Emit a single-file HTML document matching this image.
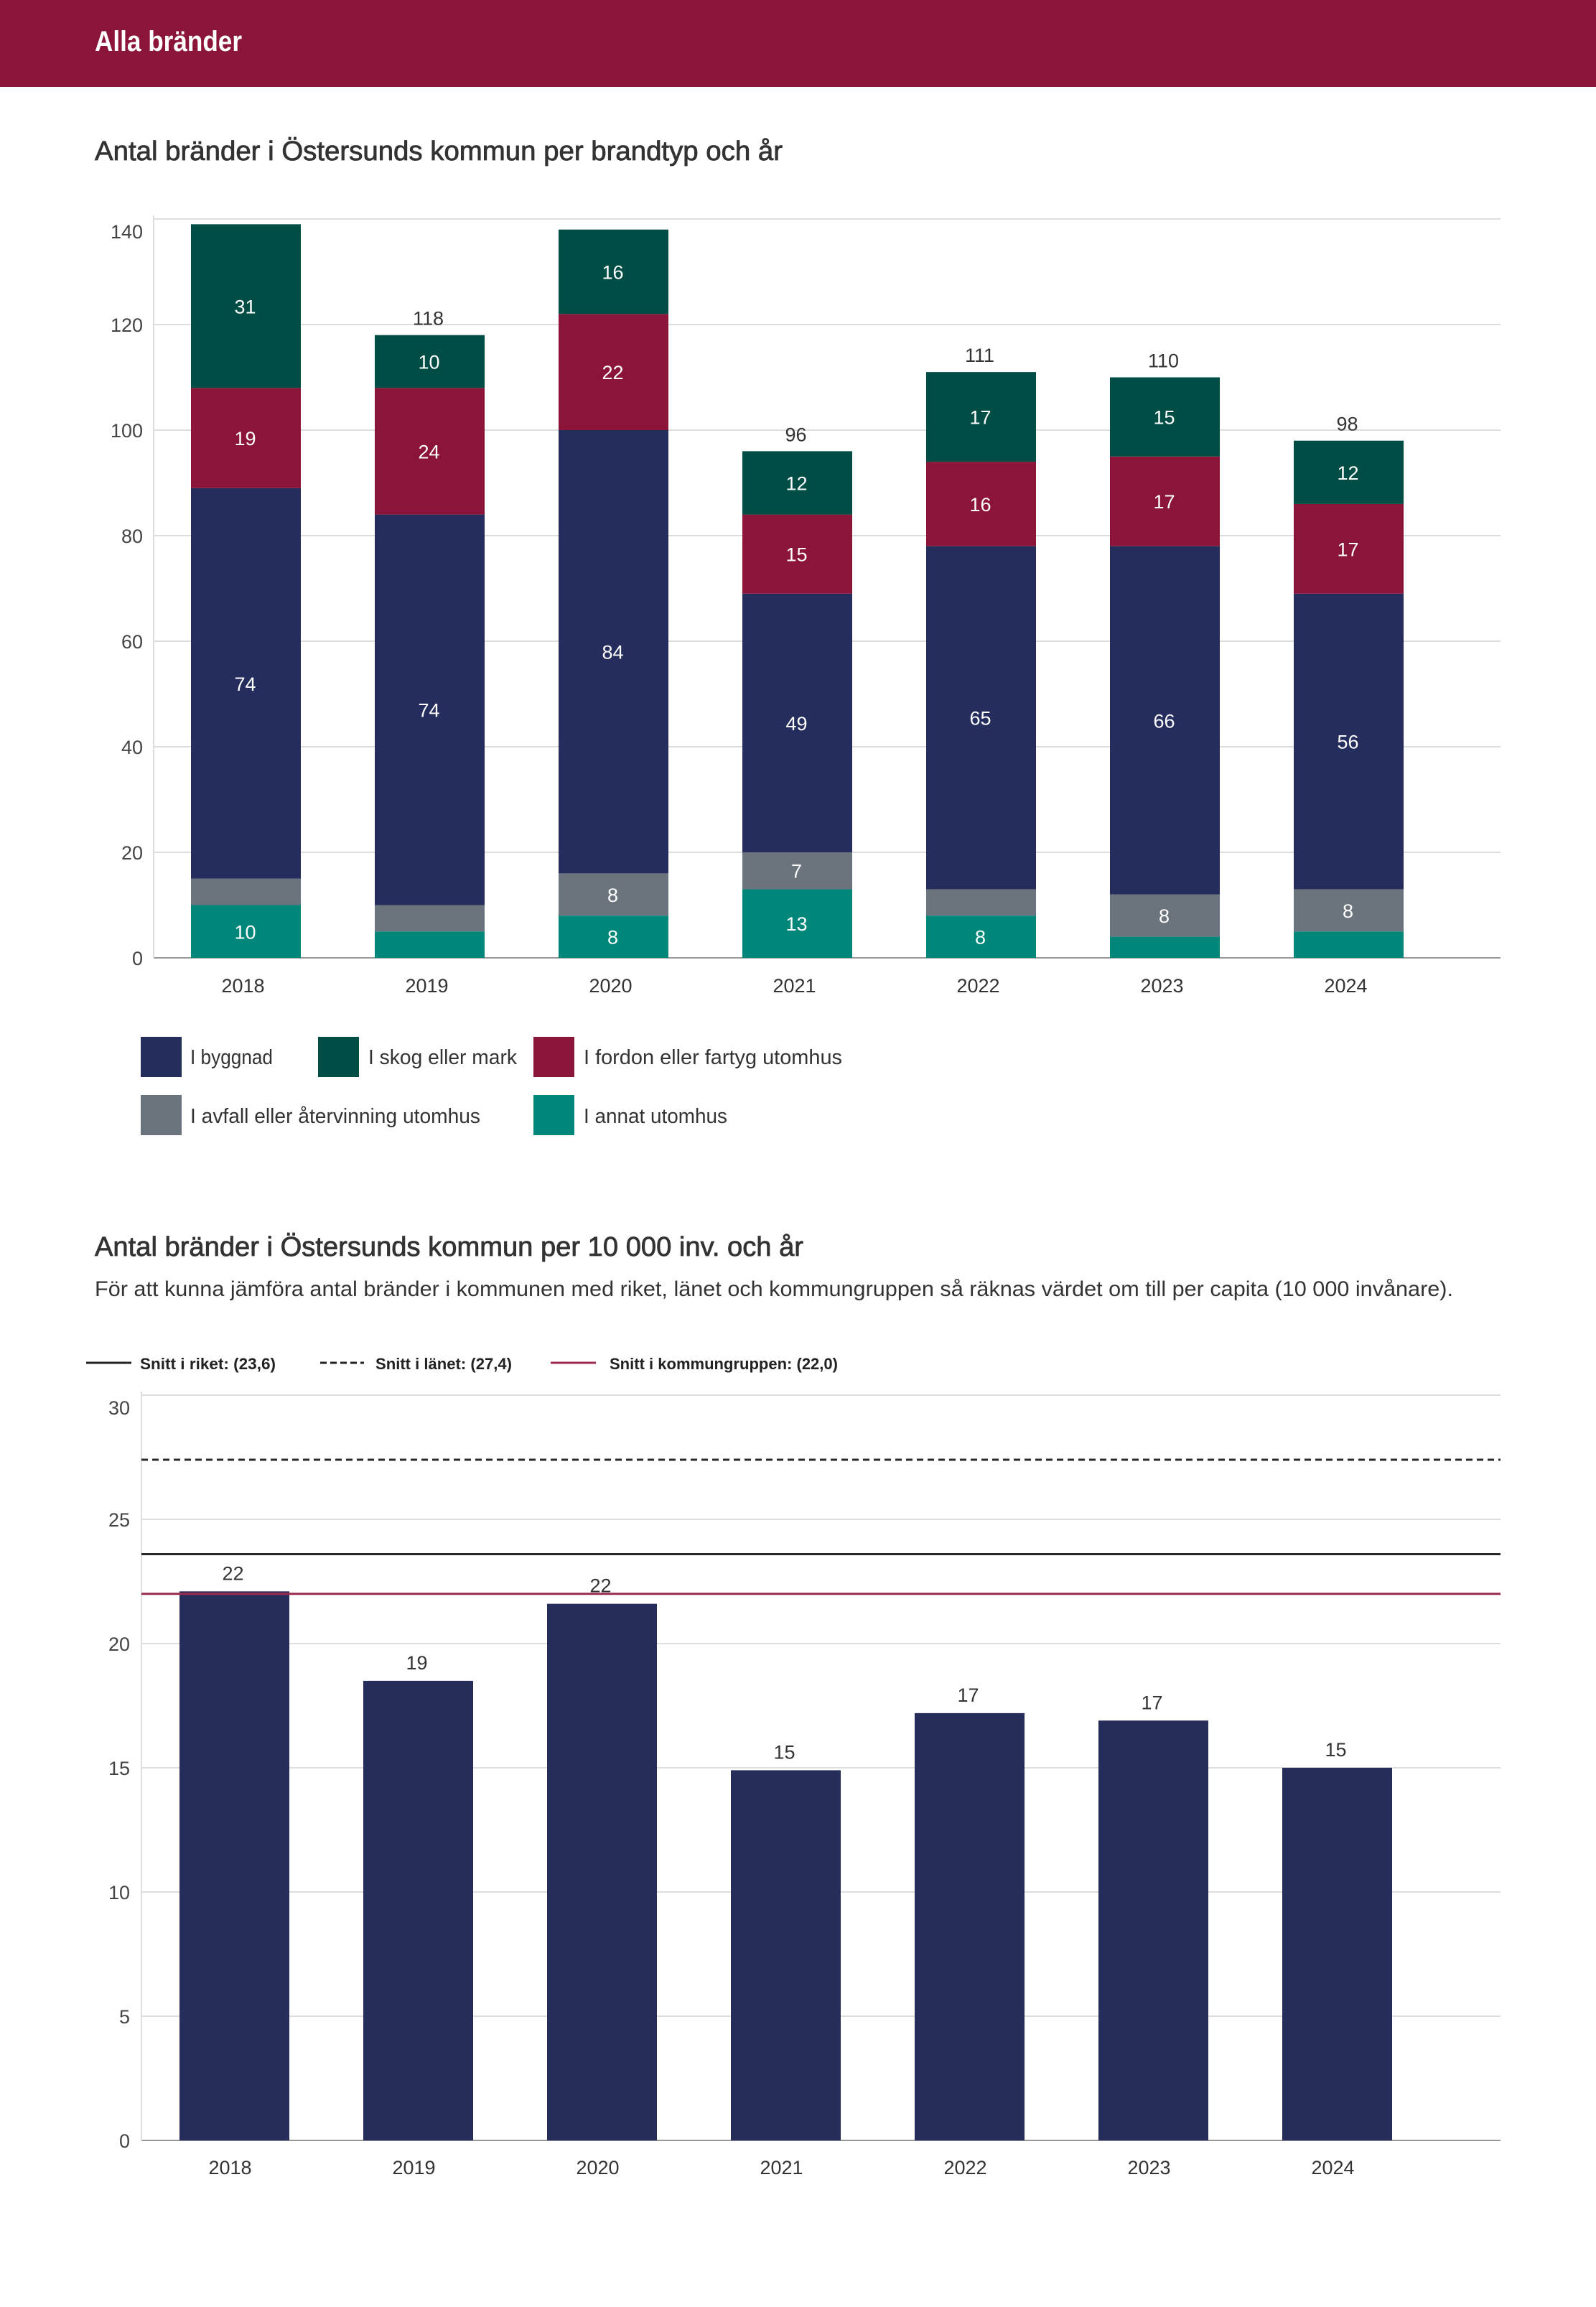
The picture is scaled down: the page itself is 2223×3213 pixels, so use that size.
<!DOCTYPE html>
<html><head><meta charset="utf-8"><style>
html,body{margin:0;padding:0;background:#fff;}
svg{display:block;font-family:"Liberation Sans",sans-serif;}
</style></head><body>
<svg id="page" width="2223" height="3213" viewBox="0 0 2223 3213" xmlns="http://www.w3.org/2000/svg">
<rect x="0" y="0" width="2223" height="121" fill="#8b1538"/>
<text x="132" y="71" font-size="40" font-weight="bold" fill="#fff" textLength="205" lengthAdjust="spacingAndGlyphs">Alla bränder</text>
<text x="132" y="223" font-size="38" fill="#333" stroke="#333" stroke-width="0.8" textLength="958" lengthAdjust="spacingAndGlyphs">Antal bränder i Östersunds kommun per brandtyp och år</text>
<g id="c1"></g>
<g>
<rect x="196" y="1444" width="57" height="56" fill="#252d5c"/>
<text x="265" y="1482" font-size="29" fill="#333" textLength="115" lengthAdjust="spacingAndGlyphs">I byggnad</text>
<rect x="443" y="1444" width="57" height="56" fill="#004d45"/>
<text x="513" y="1482" font-size="29" fill="#333" textLength="207" lengthAdjust="spacingAndGlyphs">I skog eller mark</text>
<rect x="743" y="1444" width="57" height="56" fill="#8b1538"/>
<text x="813" y="1482" font-size="29" fill="#333" textLength="360" lengthAdjust="spacingAndGlyphs">I fordon eller fartyg utomhus</text>
<rect x="196" y="1525" width="57" height="56" fill="#6b737c"/>
<text x="265" y="1564" font-size="29" fill="#333" textLength="404" lengthAdjust="spacingAndGlyphs">I avfall eller återvinning utomhus</text>
<rect x="743" y="1525" width="57" height="56" fill="#00877a"/>
<text x="813" y="1564" font-size="29" fill="#333" textLength="200" lengthAdjust="spacingAndGlyphs">I annat utomhus</text>
</g>
<text x="132" y="1749" font-size="38" fill="#333" stroke="#333" stroke-width="0.8" textLength="987" lengthAdjust="spacingAndGlyphs">Antal bränder i Östersunds kommun per 10 000 inv. och år</text>
<text x="132" y="1805" font-size="30" fill="#333" textLength="1892" lengthAdjust="spacingAndGlyphs">För att kunna jämföra antal bränder i kommunen med riket, länet och kommungruppen så räknas värdet om till per capita (10 000 invånare).</text>
<g>
<line x1="120" y1="1898" x2="183" y2="1898" stroke="#222" stroke-width="3"/>
<text x="195" y="1907" font-size="22" font-weight="bold" fill="#222" textLength="189" lengthAdjust="spacingAndGlyphs">Snitt i riket: (23,6)</text>
<line x1="446" y1="1898" x2="507" y2="1898" stroke="#222" stroke-width="3" stroke-dasharray="9,5"/>
<text x="523" y="1907" font-size="22" font-weight="bold" fill="#222" textLength="190" lengthAdjust="spacingAndGlyphs">Snitt i länet: (27,4)</text>
<line x1="767" y1="1898" x2="830" y2="1898" stroke="#9b2b4f" stroke-width="3"/>
<text x="849" y="1907" font-size="22" font-weight="bold" fill="#222" textLength="318" lengthAdjust="spacingAndGlyphs">Snitt i kommungruppen: (22,0)</text>
</g>
<g id="c2"></g>
</svg>
<script>
const years = ["2018","2019","2020","2021","2022","2023","2024"];
const annat = [10,5,8,13,8,4,5];
const avfall = [5,5,8,7,5,8,8];
const byggnad = [74,74,84,49,65,66,56];
const fordon = [19,24,22,15,16,17,17];
const skog = [31,10,16,12,17,15,12];
const ticks1 = [0,20,40,60,80,100,120,140];
const perCapita = [22.1,18.5,21.6,14.9,17.2,16.9,15.0];
const ticks2 = [0,5,10,15,20,25,30];
const snittRiket = 23.6;
const snittLanet = 27.4;
const snittGrupp = 22.0;

const NS="http://www.w3.org/2000/svg";
function mk(parent,tag,attrs,txt){const e=document.createElementNS(NS,tag);for(const k in attrs)e.setAttribute(k,attrs[k]);if(txt!==undefined)e.textContent=txt;parent.appendChild(e);return e;}

// Chart 1
const c1=document.getElementById('c1');
const y1=v=>1334-v*(1334-305)/140;
const x1=i=>214+i*256+52;
const bw=153;
ticks1.forEach(t=>{
  const g=mk(c1,'line',{x1:214,x2:2090,y1:y1(t),y2:y1(t),stroke:t===0?'#999':'#ddd','stroke-width':2});
  
  
  const ly=Math.max(y1(t)+10,332);
  const l=mk(c1,'text',{x:199,y:ly,'font-size':27,fill:'#444','text-anchor':'end'},String(t));
  
  
});
const ax1=mk(c1,'line',{x1:214,x2:214,y1:300,y2:1334,stroke:'#ddd','stroke-width':2});


const series=[["annat",annat,"#00877a"],["avfall",avfall,"#6b737c"],["byggnad",byggnad,"#252d5c"],["fordon",fordon,"#8b1538"],["skog",skog,"#004d45"]];
years.forEach((yr,i)=>{
  let base=0;
  series.forEach(([nm,arr,col])=>{
    const v=arr[i];
    const r=mk(c1,'rect',{x:x1(i),y:y1(base+v),width:bw,height:y1(base)-y1(base+v),fill:col});
    
    
    if(v>=6){
      const t=mk(c1,'text',{x:x1(i)+bw/2-1,y:(y1(base)+y1(base+v))/2+10,'font-size':27,fill:'#fff','text-anchor':'middle'},String(v));
      
      
    }
    base+=v;
  });
  if(base<=130){
    const t=mk(c1,'text',{x:x1(i)+bw/2-2,y:y1(base)-14,'font-size':27,fill:'#333','text-anchor':'middle'},String(base));
    
    
  }
  const xl=mk(c1,'text',{x:x1(i)+bw/2-4,y:1382,'font-size':27,fill:'#333','text-anchor':'middle'},yr);
  
  
});

// Chart 2
const c2=document.getElementById('c2');
const y2=v=>2981-v*(2981-1943)/30;
const x2=i=>197+53+i*256;
ticks2.forEach(t=>{
  const g=mk(c2,'line',{x1:197,x2:2090,y1:y2(t),y2:y2(t),stroke:t===0?'#999':'#ddd','stroke-width':2});
  
  
  const ly=Math.max(y2(t)+10,1970);
  const l=mk(c2,'text',{x:181,y:ly,'font-size':27,fill:'#444','text-anchor':'end'},String(t));
  
  
});
const ax2=mk(c2,'line',{x1:197,x2:197,y1:1938,y2:2981,stroke:'#ddd','stroke-width':2});


years.forEach((yr,i)=>{
  const v=perCapita[i];
  const r=mk(c2,'rect',{x:x2(i),y:y2(v),width:bw,height:y2(0)-y2(v),fill:'#272d5b'});
  
  
  const t=mk(c2,'text',{x:x2(i)+bw/2-2,y:y2(v)-16,'font-size':27,fill:'#333','text-anchor':'middle'},String(Math.round(v)));
  
  
  const xl=mk(c2,'text',{x:x2(i)+bw/2-6,y:3028,'font-size':27,fill:'#333','text-anchor':'middle'},yr);
  
  
});
const lr=mk(c2,'line',{x1:197,x2:2090,y1:y2(snittRiket),y2:y2(snittRiket),stroke:'#2a2a2a','stroke-width':3});


const ll=mk(c2,'line',{x1:197,x2:2090,y1:y2(snittLanet),y2:y2(snittLanet),stroke:'#2a2a2a','stroke-width':3,'stroke-dasharray':'9,6'});


const lg=mk(c2,'line',{x1:197,x2:2090,y1:y2(snittGrupp),y2:y2(snittGrupp),stroke:'#9b2b4f','stroke-width':3});


</script>
</body></html>
